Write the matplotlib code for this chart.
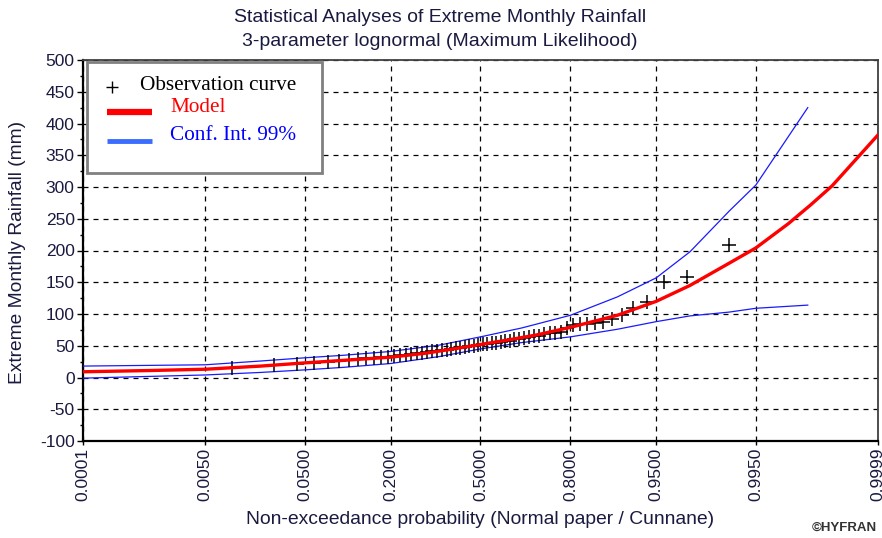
import matplotlib
matplotlib.use("Agg")
import matplotlib.pyplot as plt
import numpy as np
from statistics import NormalDist
from matplotlib.lines import Line2D
from matplotlib.patches import Rectangle
from matplotlib.ticker import MultipleLocator, FixedLocator, FixedFormatter

# observed extreme monthly rainfall (mm), sorted
obs = [15, 20, 22, 23, 25, 26, 28, 29, 30, 31,
       32, 33, 34, 35, 36, 37, 38, 39, 40, 41,
       42, 43, 44, 45, 46, 47, 48, 49, 50, 51,
       52, 53, 54, 55, 56, 57, 58, 60, 61, 62,
       64, 65, 66, 68, 70, 70, 72, 78, 82, 84,
       85, 86, 87, 92, 98, 109, 119, 150, 158, 209]

# fitted 3-parameter lognormal model
model_p = [0.0001, 0.001, 0.005, 0.02, 0.05, 0.1, 0.2, 0.3, 0.4, 0.5, 0.6,
           0.7, 0.8, 0.9, 0.95, 0.975, 0.99, 0.995, 0.998, 0.999, 0.9995, 0.9999]
model_y = [9, 11, 13, 18, 23, 27, 32, 38, 45, 52, 59,
           67, 79, 98, 120, 145, 180, 204, 242, 272, 302, 382]

# 99% confidence interval
ci_p = [0.0001, 0.005, 0.02, 0.05, 0.1, 0.2, 0.35, 0.5, 0.65, 0.8,
        0.9, 0.95, 0.975, 0.99, 0.995, 0.9989]
ci_upper = [18, 20, 26, 31, 35, 41, 51, 64, 78, 98,
            127, 157, 198, 262, 303, 425]
ci_lower = [-1, 4, 8, 12, 16, 22, 33, 45, 55, 64,
            76, 88, 97, 103, 109, 114]

prob_ticks = [0.0001, 0.005, 0.05, 0.2, 0.5, 0.8, 0.95, 0.995, 0.9999]

W, H = 882, 538
SANS = ["Liberation Sans", "DejaVu Sans"]
SERIF = ["Liberation Serif", "DejaVu Serif"]
TXT = "#1a1a40"

nd = NormalDist()
_ppf = np.vectorize(nd.inv_cdf, otypes=[float])
_cdf = np.vectorize(nd.cdf, otypes=[float])


def forward(p):
    p = np.clip(np.asarray(p, dtype=float), 1e-12, 1 - 1e-12)
    return _ppf(p)


def inverse(z):
    return _cdf(np.asarray(z, dtype=float))


n = len(obs)
obs_p = [(i - 0.4) / (n + 0.2) for i in range(1, n + 1)]  # Cunnane

plt.rcParams["font.family"] = SANS
plt.rcParams["axes.unicode_minus"] = False
fig = plt.figure(figsize=(W / 100, H / 100), dpi=100)
ax = fig.add_axes([83 / W, 1 - 441 / H, 795 / W, 381 / H])
ax.set_xscale("function", functions=(forward, inverse))

ax.plot(ci_p, ci_upper, color="#1a1aff", lw=0.9, zorder=3)
ax.plot(ci_p, ci_lower, color="#1a1aff", lw=0.9, zorder=3)
ax.plot(obs_p, obs, ls="none", marker="+", ms=10, mew=1.1, color="k", zorder=4)
ax.plot(model_p, model_y, color="#ff0000", lw=2.4, zorder=5)

ax.set_xlim(0.0001, 0.9999)
ax.set_ylim(-100, 500)
ax.xaxis.set_major_locator(FixedLocator(prob_ticks))
ax.xaxis.set_major_formatter(FixedFormatter([f"{p:.4f}" for p in prob_ticks]))
ax.xaxis.set_minor_locator(FixedLocator([]))
ax.yaxis.set_major_locator(MultipleLocator(50))
ax.yaxis.set_minor_locator(MultipleLocator(25))

ax.grid(True, which="major", color="k", ls=(0, (4, 4)), lw=0.9)
ax.set_axisbelow(True)

for s in ["left", "bottom"]:
    ax.spines[s].set_color("k")
    ax.spines[s].set_linewidth(1.6)
for s in ["top", "right"]:
    ax.spines[s].set_color("#404040")
    ax.spines[s].set_linewidth(1.3)

ax.tick_params(axis="y", which="major", length=4, width=1, labelsize=12.5, labelcolor=TXT, pad=2)
ax.tick_params(axis="y", which="minor", length=2.5, width=1)
ax.tick_params(axis="x", which="major", length=3, width=1, labelsize=12.5, labelcolor=TXT,
               labelrotation=90, pad=2)

fig.text(440 / W, 1 - 18 / H, "Statistical Analyses of Extreme Monthly Rainfall",
         ha="center", va="center", fontsize=14, color=TXT)
fig.text(440 / W, 1 - 42 / H, "3-parameter lognormal (Maximum Likelihood)",
         ha="center", va="center", fontsize=14, color=TXT)
fig.text(18 / W, 1 - 252 / H, "Extreme Monthly Rainfall (mm)", rotation=90,
         ha="center", va="center", fontsize=13.8, color=TXT)
fig.text(480 / W, 1 - 519 / H, "Non-exceedance probability (Normal paper / Cunnane)",
         ha="center", va="center", fontsize=13.9, color=TXT)
fig.text(812 / W, 1 - 528 / H, "\u00a9HYFRAN", ha="left", va="center",
         fontsize=9.5, fontweight="bold", color="#333333")

# legend box drawn in figure pixels
def fx(px):
    return px / W


def fy(py):
    return 1 - py / H


fig.add_artist(Rectangle((fx(87), fy(173)), fx(322) - fx(87), fy(62) - fy(173),
                         transform=fig.transFigure, facecolor="white",
                         edgecolor="#808080", lw=2, zorder=10))
fig.add_artist(Line2D([fx(112)], [fy(87)], marker="+", ms=9, mew=1, color="k",
                      transform=fig.transFigure, zorder=11))
fig.add_artist(Line2D([fx(107), fx(152)], [fy(112), fy(112)], color="#ff0000", lw=4.5,
                      solid_capstyle="butt", transform=fig.transFigure, zorder=11))
fig.add_artist(Line2D([fx(107), fx(152)], [fy(141), fy(141)], color="#3a6cff", lw=3.5,
                      solid_capstyle="butt", transform=fig.transFigure, zorder=11))
fig.text(fx(140), fy(86), "Observation curve", ha="left", va="center",
         family=SERIF, fontsize=15.3, color="k", zorder=12)
fig.text(fx(170), fy(108), "Model", ha="left", va="center",
         family=SERIF, fontsize=15.3, color="#ff0000", zorder=12)
fig.text(fx(170), fy(135), "Conf. Int. 99%", ha="left", va="center",
         family=SERIF, fontsize=15.3, color="#0000ff", zorder=12)

fig.savefig("out.png", dpi=100, facecolor="white")
